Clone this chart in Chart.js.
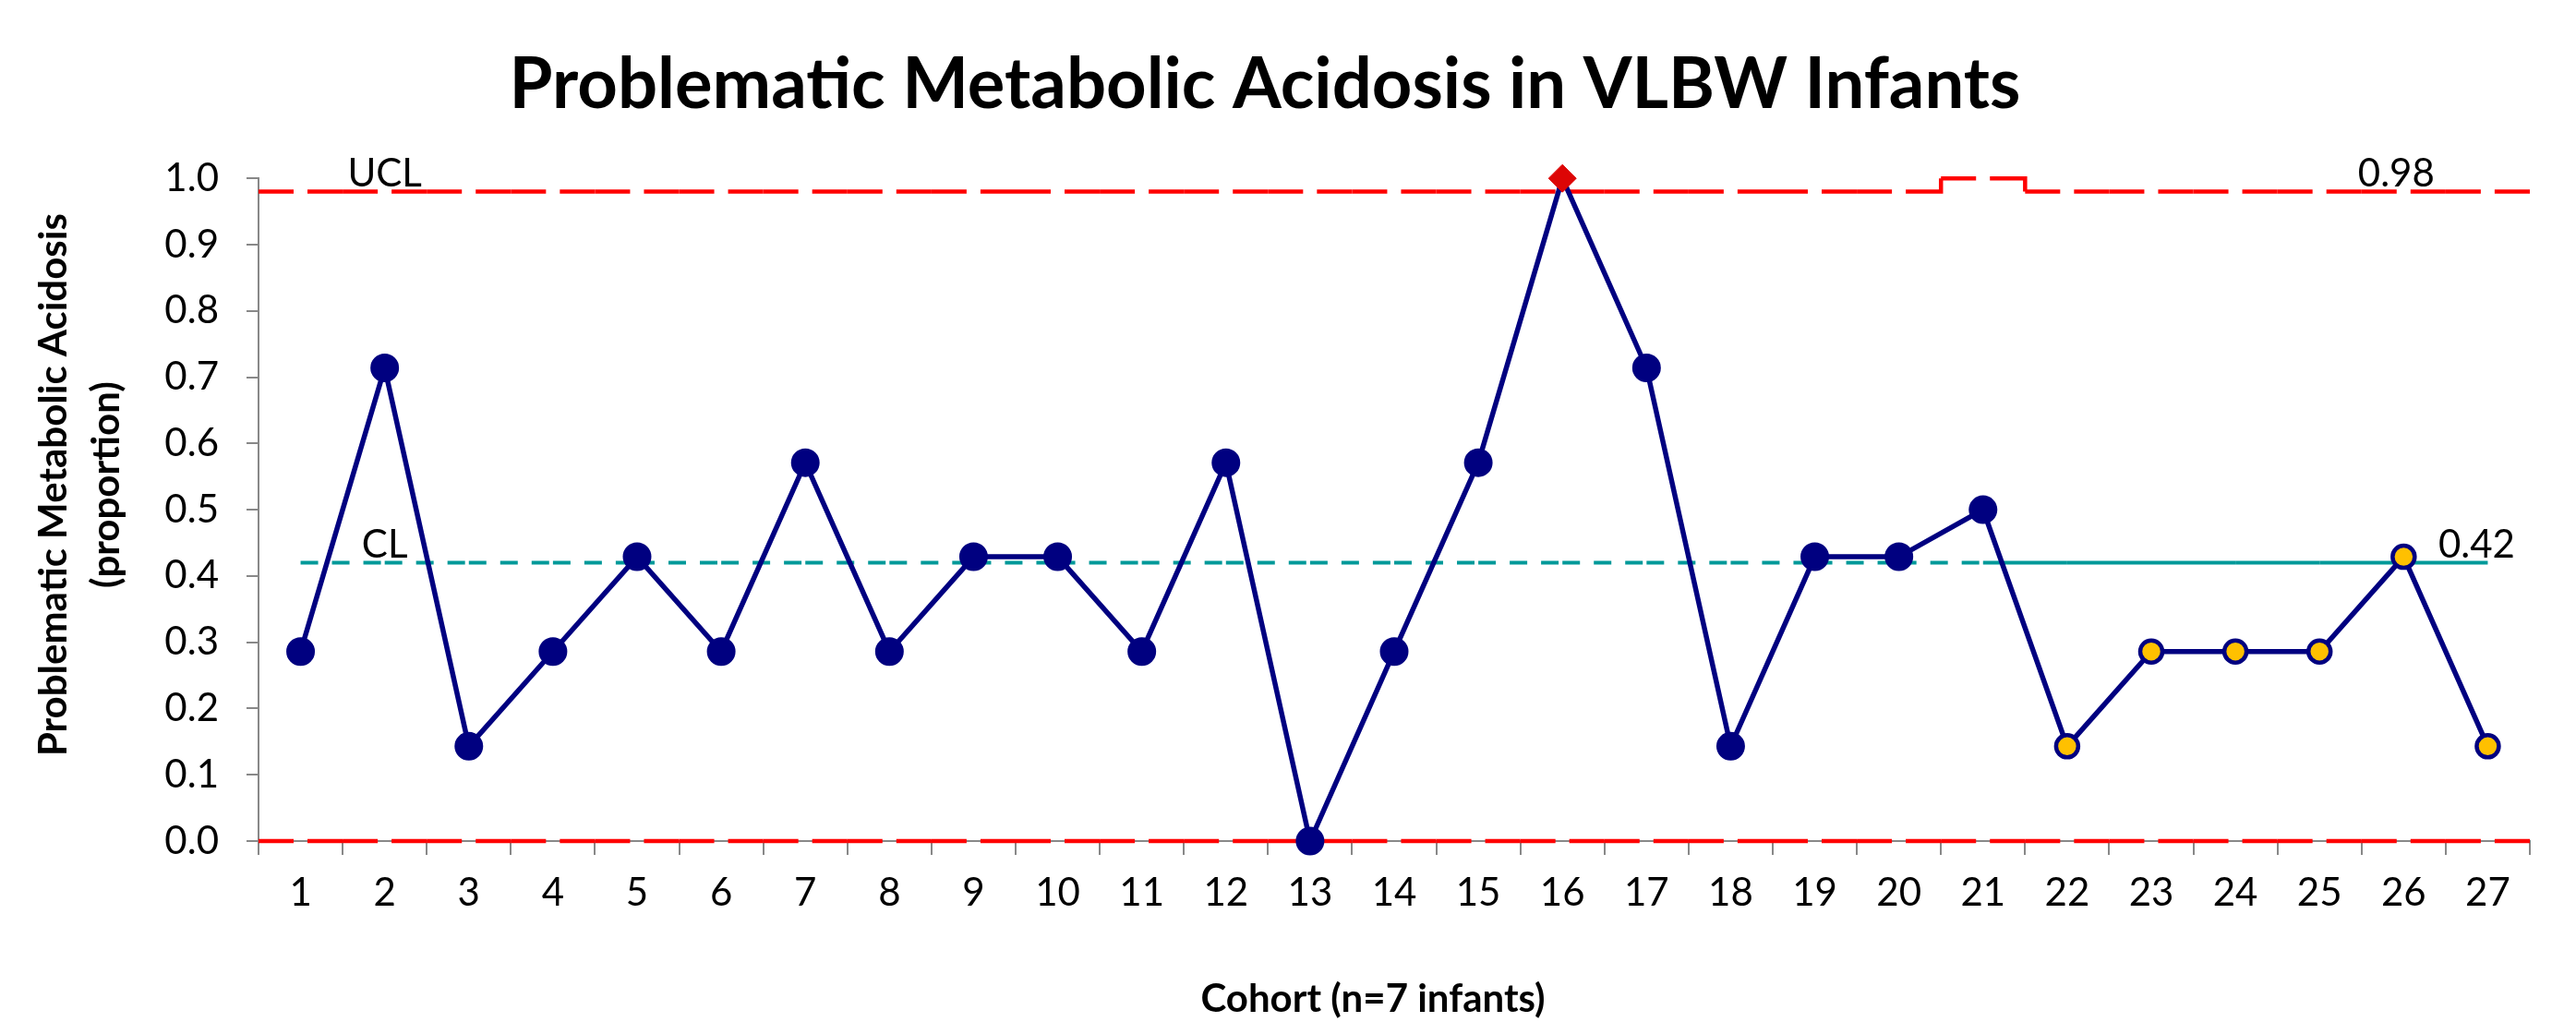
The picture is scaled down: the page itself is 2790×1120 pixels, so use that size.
<!DOCTYPE html>
<html>
<head>
<meta charset="utf-8">
<title>Problematic Metabolic Acidosis in VLBW Infants</title>
<script src="https://cdn.jsdelivr.net/npm/chart.js@4.4.1/dist/chart.umd.min.js"></script>
<style>
  html, body { margin: 0; padding: 0; background: #fff; }
  #wrap { width: 2790px; height: 1120px; }
</style>
</head>
<body>
<div id="wrap"><canvas id="pChart" width="2790" height="1120"></canvas></div>
<script>
// cohort numbers on the x axis
var cohorts = ['1', '2', '3', '4', '5', '6', '7', '8', '9', '10', '11', '12', '13', '14',
    '15', '16', '17', '18', '19', '20', '21', '22', '23', '24', '25', '26', '27'];

// proportion of infants with problematic metabolic acidosis, per cohort
var proportions = [0.286, 0.714, 0.143, 0.286, 0.429, 0.286, 0.571, 0.286, 0.429, 0.429,
    0.286, 0.571, 0.0, 0.286, 0.571, 1.0, 0.714, 0.143, 0.429, 0.429,
    0.5, 0.143, 0.286, 0.286, 0.286, 0.429, 0.143];

// control limits per cohort
var upperLimit = [0.98, 0.98, 0.98, 0.98, 0.98, 0.98, 0.98, 0.98, 0.98, 0.98,
    0.98, 0.98, 0.98, 0.98, 0.98, 0.98, 0.98, 0.98, 0.98, 0.98,
    1.0, 0.98, 0.98, 0.98, 0.98, 0.98, 0.98];
var centerLine = [0.42, 0.42, 0.42, 0.42, 0.42, 0.42, 0.42, 0.42, 0.42, 0.42,
    0.42, 0.42, 0.42, 0.42, 0.42, 0.42, 0.42, 0.42, 0.42, 0.42,
    0.42, 0.42, 0.42, 0.42, 0.42, 0.42, 0.42];
var lowerLimit = [0, 0, 0, 0, 0, 0, 0, 0, 0, 0,
    0, 0, 0, 0, 0, 0, 0, 0, 0, 0,
    0, 0, 0, 0, 0, 0, 0];

// cohorts from this one on are shown with yellow markers
var newPeriodFrom = 22;
// centre line is solid from this cohort on
var clSolidFrom = 21;

var NAVY = '#000080';
var YELLOW = '#FFC000';
var RED = '#FF0000';
var TEAL = '#009999';

// limit lines run edge to edge of each cohort, so put them on a hidden linear axis
function stepPoints(limits) {
    var pts = [];
    for (var i = 0; i < limits.length; i++) {
        pts.push({ x: i + 0.5, y: limits[i] });
    }
    pts.push({ x: limits.length + 0.5, y: limits[limits.length - 1] });
    return pts;
}

var isOut = proportions.map(function (v, i) { return v > upperLimit[i] || v < lowerLimit[i]; });
var isNew = cohorts.map(function (c) { return Number(c) >= newPeriodFrom; });

var pointStyles = isOut.map(function (o) { return o ? 'rectRot' : 'circle'; });
var pointFill = proportions.map(function (v, i) {
    if (isOut[i]) return '#DD0505';
    return isNew[i] ? YELLOW : NAVY;
});
var pointEdge = proportions.map(function (v, i) { return isOut[i] ? '#DD0505' : NAVY; });
var pointRad = proportions.map(function (v, i) {
    if (isOut[i]) return 15;
    return isNew[i] ? 12 : 13.5;
});
var pointEdgeW = proportions.map(function (v, i) {
    if (isOut[i]) return 1;
    return isNew[i] ? 4.5 : 4;
});

// dashes restart at every cohort, like the original; alternating equal offsets forces that
var limitSegment = {
    borderDashOffset: function (c) { return c.p0DataIndex % 2 ? 38 + 91 : 38; }
};

var textLabels = {
    id: 'textLabels',
    afterDatasetsDraw: function (chart) {
        var ctx = chart.ctx;
        var x = chart.scales.x;
        var y = chart.scales.y;
        var area = chart.chartArea;
        ctx.save();
        ctx.fillStyle = '#000';
        ctx.font = '42px Lato';
        ctx.textAlign = 'center';
        ctx.textBaseline = 'alphabetic';
        ctx.fillText('UCL', x.getPixelForValue(1), y.getPixelForValue(upperLimit[1]) - 6);
        ctx.fillText('CL', x.getPixelForValue(1), y.getPixelForValue(centerLine[1]) - 6);
        ctx.fillText(upperLimit[25].toFixed(2), x.getPixelForValue(25) - 8, y.getPixelForValue(upperLimit[25]) - 6);
        ctx.fillText(centerLine[26].toFixed(2), x.getPixelForValue(26) - 12, y.getPixelForValue(centerLine[26]) - 6);

        // axis titles
        ctx.font = 'bold 42px Lato';
        ctx.textBaseline = 'middle';
        ctx.fillText('Cohort (n=7 infants)', (area.left + area.right) / 2 - 23, 1082);

        ctx.translate(58, (area.top + area.bottom) / 2 - 27);
        ctx.rotate(-Math.PI / 2);
        ctx.fillText('Problematic Metabolic Acidosis', 0, 0);
        ctx.fillText('(proportion)', 0, 57);
        ctx.restore();
    }
};

var ctx = document.getElementById('pChart').getContext('2d');
var myChart = new Chart(ctx, {
    type: 'line',
    data: {
        labels: cohorts,
        datasets: [
            {
                label: 'Proportion',
                data: proportions,
                borderColor: NAVY,
                borderWidth: 5.5,
                tension: 0,
                pointStyle: pointStyles,
                pointBackgroundColor: pointFill,
                pointBorderColor: pointEdge,
                pointRadius: pointRad,
                pointBorderWidth: pointEdgeW,
                clip: false,
                order: 0
            },
            {
                label: 'CL',
                data: centerLine,
                borderColor: TEAL,
                borderWidth: 4,
                pointRadius: 0,
                tension: 0,
                segment: {
                    borderDash: function (c) { return c.p0DataIndex >= clSolidFrom - 1 ? [] : [19, 15]; },
                    borderDashOffset: function (c) { return c.p0DataIndex % 2 ? 34 : 0; }
                },
                order: 2
            },
            {
                label: 'UCL',
                data: stepPoints(upperLimit),
                xAxisID: 'xl',
                borderColor: RED,
                borderWidth: 4.5,
                borderDash: [76, 15],
                pointRadius: 0,
                stepped: true,
                segment: limitSegment,
                clip: false,
                order: 1
            },
            {
                label: 'LCL',
                data: stepPoints(lowerLimit),
                xAxisID: 'xl',
                borderColor: RED,
                borderWidth: 4.5,
                borderDash: [76, 15],
                pointRadius: 0,
                stepped: true,
                segment: limitSegment,
                clip: false,
                order: 1
            }
        ]
    },
    options: {
        responsive: false,
        animation: false,
        devicePixelRatio: 1,
        layout: { padding: { left: 0, right: 50, top: 0, bottom: 0 } },
        plugins: {
            legend: { display: false },
            tooltip: { enabled: false },
            title: {
                display: true,
                text: 'Problematic Metabolic Acidosis in VLBW Infants',
                color: '#000',
                font: { family: 'Lato', size: 76, weight: 'bold', lineHeight: 1.2 },
                padding: { top: 47, bottom: 55 }
            }
        },
        scales: {
            x: {
                type: 'category',
                offset: true,
                grid: {
                    offset: true,
                    drawOnChartArea: false,
                    drawTicks: true,
                    tickLength: 15,
                    color: '#888',
                    lineWidth: 2
                },
                border: { display: true, color: '#888', width: 2 },
                ticks: {
                    color: '#000',
                    font: { family: 'Lato', size: 42 },
                    padding: 16,
                    maxRotation: 0,
                    autoSkip: false
                },
                afterFit: function (scale) { scale.height = 209; }
            },
            xl: {
                type: 'linear',
                display: false,
                min: 0.5,
                max: cohorts.length + 0.5
            },
            y: {
                min: 0,
                max: 1,
                grid: {
                    drawOnChartArea: false,
                    drawTicks: true,
                    tickLength: 13,
                    color: '#888',
                    lineWidth: 2
                },
                border: { display: true, color: '#888', width: 2 },
                ticks: {
                    stepSize: 0.1,
                    color: '#000',
                    font: { family: 'Lato', size: 42 },
                    padding: 30,
                    callback: function (v) { return Number(v).toFixed(1); }
                },
                afterFit: function (scale) { scale.width = 280; }
            }
        }
    },
    plugins: [textLabels]
});
</script>
</body>
</html>
